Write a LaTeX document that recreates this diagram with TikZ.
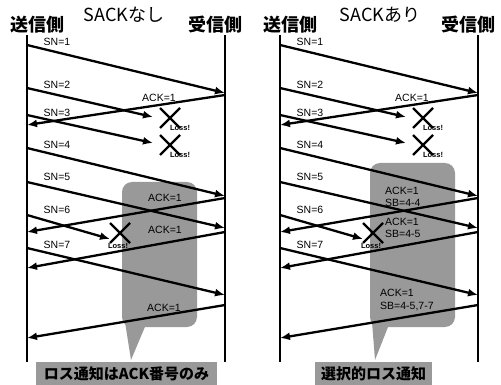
\documentclass[tikz,border=0pt]{standalone}
\usepackage{fontspec}
\setmainfont{Liberation Sans}
\newfontfamily\jp{Noto Sans CJK JP}
\usetikzlibrary{arrows.meta,calc}
\definecolor{dith}{gray}{0.6}
\tikzset{
  life/.style={line width=2.4pt},
  msg/.style={line width=2.3pt,-{Latex[length=10pt,width=8pt]}},
  lbl/.style={font=\fontsize{10.5}{12.5}\selectfont, inner sep=0pt},
  losslbl/.style={font=\fontsize{7.5}{7.5}\selectfont\bfseries, inner sep=0pt},
  xmark/.style={line width=2.4pt},
  head/.style={font=\jp\bfseries\fontsize{18}{18}\selectfont, inner sep=0pt},
  ttl/.style={font=\jp\fontsize{18}{18}\selectfont, inner sep=0pt},
  balloon/.style={fill=dith},
  foot/.style={fill=dith, font=\jp\bfseries\fontsize{15}{15}\selectfont, inner sep=0pt, minimum height=23pt},
  acklbl/.style={lbl, align=left, anchor=west},
}
\newcommand\lossmark[2]{%
  \draw[xmark] (#1) ++(-10,-10) -- ++(20,20);
  \draw[xmark] (#1) ++(-10,10) -- ++(20,-20);
  \node[losslbl] (#2) at ($(#1)+(10,10)$) {Loss!};
}
\newcommand\panelbody{%
  % lifelines
  \coordinate (stop) at (27,35); \coordinate (sbot) at (27,362);
  \coordinate (rtop) at (225,35); \coordinate (rbot) at (225,362);
  \draw[life] (stop) -- (sbot);
  \draw[life] (rtop) -- (rbot);
  \node[head] (sendH) at (37,25) {送信側};
  \node[head] (recvH) at (215,25) {受信側};
  % endpoints
  \coordinate (m1s) at (27,45);  \coordinate (m1e) at (225,93);
  \coordinate (m2s) at (27,88);  \coordinate (m2e) at (153,117);
  \coordinate (a1s) at (225,95); \coordinate (a1e) at (27,125);
  \coordinate (m3s) at (27,115); \coordinate (m3e) at (153,143);
  \coordinate (m4s) at (27,148); \coordinate (m4e) at (225,196);
  \coordinate (m5s) at (27,182); \coordinate (m5e) at (225,228);
  \coordinate (a2s) at (225,198);\coordinate (a2e) at (27,232);
  \coordinate (m6s) at (27,215); \coordinate (m6e) at (110,239);
  \coordinate (a3s) at (225,232);\coordinate (a3e) at (27,268);
  \coordinate (m7s) at (27,248); \coordinate (m7e) at (225,295);
  \coordinate (a4s) at (225,305);\coordinate (a4e) at (27,338);
  \foreach \a/\b in {m1s/m1e,m2s/m2e,a1s/a1e,m3s/m3e,m4s/m4e,m5s/m5e,a2s/a2e,m6s/m6e,a3s/a3e,m7s/m7e,a4s/a4e}
    \draw[msg] (\a) -- (\b);
  % SN labels
  \node[lbl] (sn1) at (57,42) {SN=1};
  \node[lbl] (sn2) at (57,85) {SN=2};
  \node[lbl] (sn3) at (57,113) {SN=3};
  \node[lbl] (sn4) at (57,145) {SN=4};
  \node[lbl] (sn5) at (57,177) {SN=5};
  \node[lbl] (sn6) at (57,210) {SN=6};
  \node[lbl] (sn7) at (57,245) {SN=7};
  \node[lbl] (ack1) at (159,98) {ACK=1};
  % losses
  \coordinate (x1) at (170,118);
  \coordinate (x2) at (170,145);
  \coordinate (x3) at (120,233);
  \lossmark{x1}{l1}
  \lossmark{x2}{l2}
  \draw[xmark] (x3) ++(-10,-10) -- ++(20,20);
  \draw[xmark] (x3) ++(-10,10) -- ++(20,-20);
  \node[losslbl] (l3) at (118,246) {Loss!};
}
\begin{document}
\begin{tikzpicture}[x=1pt,y=-1pt]
\useasboundingbox (0,0) rectangle (501,385);
% ---------- left panel ----------
\begin{scope}[name prefix=L-]
  \fill[balloon, rounded corners=10pt] (122,182) rectangle (197,327);
  \fill[balloon] (125,322) -- (147,322) -- (131,360) -- cycle;
  \node[foot, minimum width=181pt] (foot) at (126.5,373.5) {ロス通知はACK番号のみ};
  \node[ttl] (title) at (124,15) {SACKなし};
  \panelbody
  \node[lbl] (ack2) at (165,198) {ACK=1};
  \node[lbl] (ack3) at (165,230) {ACK=1};
  \node[lbl] (ack4) at (164,308) {ACK=1};
\end{scope}
% ---------- right panel ----------
\begin{scope}[xshift=253pt, name prefix=R-]
  \fill[balloon, rounded corners=10pt] (117,163) rectangle (202,327);
  \fill[balloon] (119,322) -- (137,322) -- (122,360) -- cycle;
  \node[foot, minimum width=117pt] (foot) at (120.5,373.5) {選択的ロス通知};
  \node[ttl] (title) at (127,15) {SACKあり};
  \panelbody
  \node[acklbl] (ack2) at (132,197) {ACK=1\\SB=4-4};
  \node[acklbl] (ack3) at (132,228) {ACK=1\\SB=4-5};
  \node[acklbl] (ack4) at (127,300) {ACK=1\\SB=4-5,7-7};
\end{scope}
\end{tikzpicture}
\end{document}
